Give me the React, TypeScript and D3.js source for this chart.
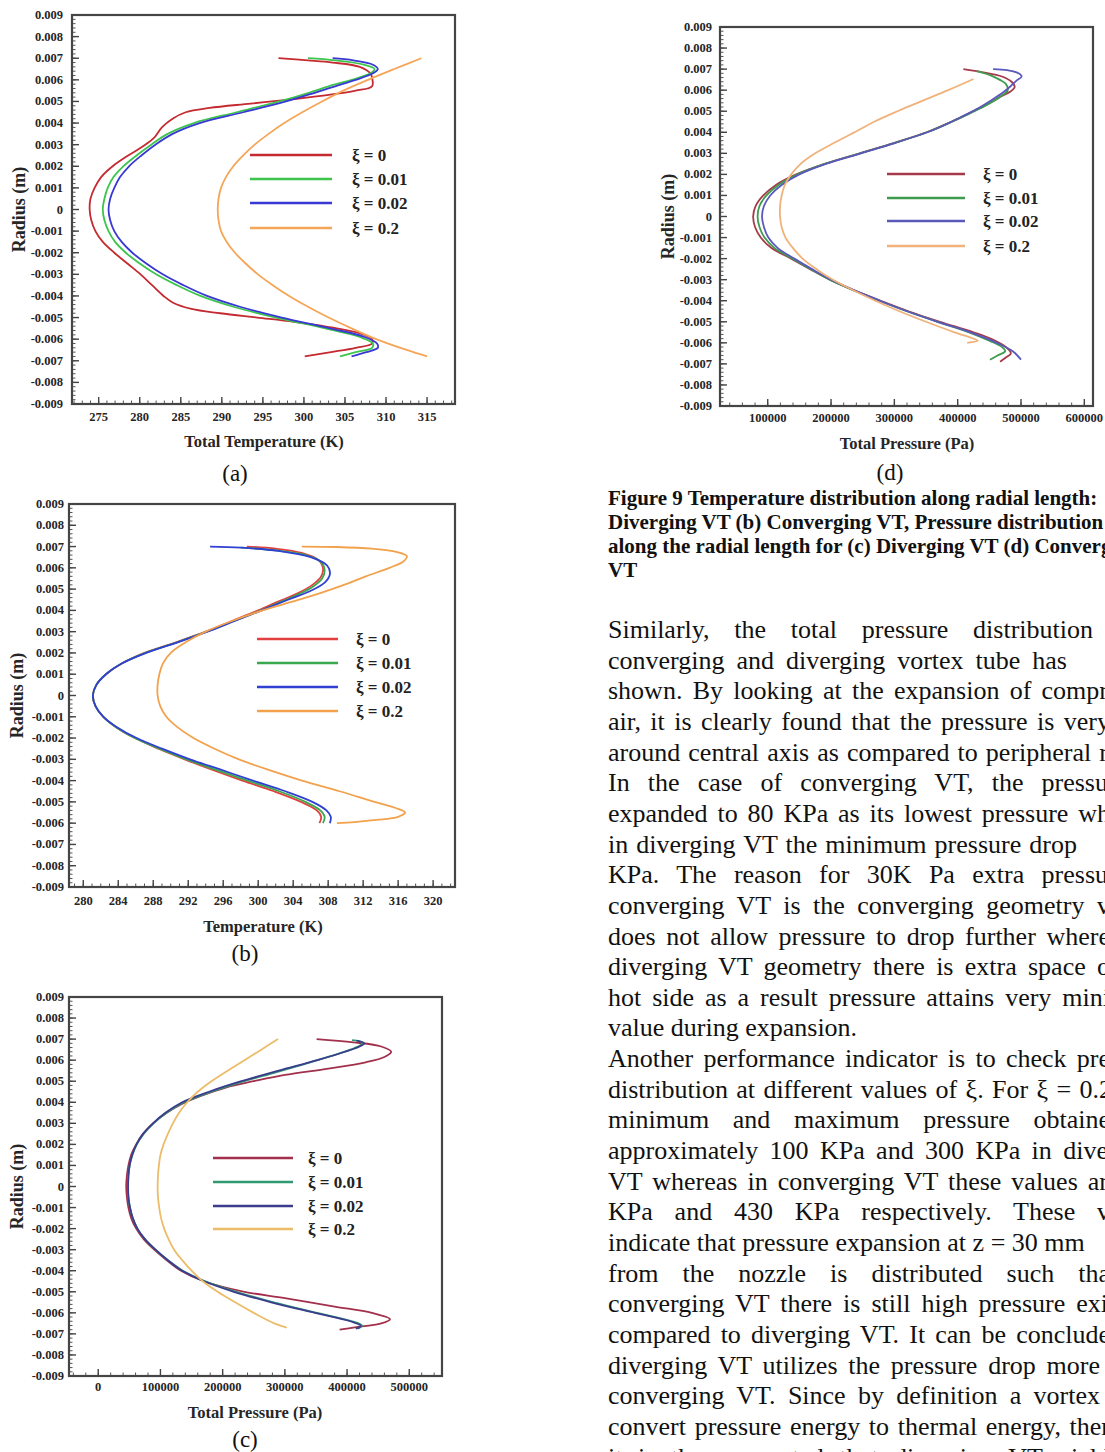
import React, { useLayoutEffect, useRef } from "react";
import * as d3 from "d3";

type P = [number, number]; // [radius (m), value]

// ---------- axis ticks ----------
const radiusTicks = [0.009, 0.008, 0.007, 0.006, 0.005, 0.004, 0.003, 0.002, 0.001, 0, -0.001, -0.002, -0.003, -0.004, -0.005, -0.006, -0.007, -0.008, -0.009];
const tempTicksA = [275, 280, 285, 290, 295, 300, 305, 310, 315];
const tempTicksB = [280, 284, 288, 292, 296, 300, 304, 308, 312, 316, 320];
const pressTicksC = [0, 100000, 200000, 300000, 400000, 500000];
const pressTicksD = [100000, 200000, 300000, 400000, 500000, 600000];
const legendLabels = ["ξ = 0", "ξ = 0.01", "ξ = 0.02", "ξ = 0.2"];

// ---------- (a) diverging VT, total temperature (K) ----------
const aXi0: P[] = [
  [0.007, 296.9], [0.0069, 300.5], [0.0068, 303.5], [0.0066, 306.8], [0.0063, 308.1], [0.0061, 308.3], [0.0057, 308.3],
  [0.0055, 306.3], [0.0053, 303.0], [0.0051, 298.5], [0.0049, 293.5], [0.0047, 288.5], [0.0045, 285.6], [0.0042, 284.0],
  [0.0038, 282.7], [0.0033, 281.7], [0.0029, 280.3], [0.0025, 278.6], [0.002, 276.7], [0.0015, 275.3], [0.001, 274.5],
  [0.0005, 274.0], [0, 273.9], [-0.0005, 274.1], [-0.001, 274.6], [-0.0015, 275.5], [-0.002, 276.9], [-0.0025, 278.5],
  [-0.003, 280.1], [-0.0035, 281.5], [-0.004, 282.9], [-0.0043, 284.0], [-0.0046, 286.3], [-0.0048, 289.8], [-0.005, 294.3],
  [-0.0052, 298.8], [-0.0055, 304.0], [-0.0058, 307.4], [-0.006, 308.3], [-0.0062, 308.3], [-0.0064, 306.3], [-0.0066, 303.3],
  [-0.0068, 300.1],
];
const aXi001: P[] = [
  [0.007, 300.5], [0.0069, 303.8], [0.0067, 307.3], [0.0065, 308.6], [0.0063, 308.1], [0.006, 305.8], [0.0057, 303.0],
  [0.0054, 300.6], [0.005, 297.0], [0.0045, 291.8], [0.004, 286.6], [0.0035, 283.4], [0.003, 281.4], [0.0025, 279.6],
  [0.002, 278.0], [0.0015, 276.8], [0.001, 276.1], [0.0005, 275.7], [0, 275.5], [-0.0005, 275.7], [-0.001, 276.2],
  [-0.0015, 277.0], [-0.002, 278.3], [-0.0025, 280.0], [-0.003, 282.0], [-0.0035, 284.5], [-0.004, 287.4], [-0.0045, 291.4],
  [-0.005, 296.6], [-0.0055, 302.6], [-0.0059, 306.8], [-0.0062, 308.4], [-0.0064, 308.3], [-0.0066, 306.3], [-0.0068, 304.4],
];
const aXi002: P[] = [
  [0.007, 303.5], [0.0069, 306.0], [0.0067, 308.4], [0.0065, 309.0], [0.0063, 308.4], [0.006, 306.3], [0.0057, 303.8],
  [0.0054, 301.3], [0.005, 297.8], [0.0045, 292.6], [0.004, 287.3], [0.0035, 284.0], [0.003, 281.9], [0.0025, 280.2],
  [0.002, 278.7], [0.0015, 277.6], [0.001, 276.9], [0.0005, 276.4], [0, 276.2], [-0.0005, 276.4], [-0.001, 276.9],
  [-0.0015, 277.8], [-0.002, 279.1], [-0.0025, 280.8], [-0.003, 282.8], [-0.0035, 285.3], [-0.004, 288.2], [-0.0045, 292.2],
  [-0.005, 297.3], [-0.0055, 303.2], [-0.0059, 307.4], [-0.0062, 308.9], [-0.0064, 309.0], [-0.0066, 307.6], [-0.0068, 305.8],
];
const aXi02: P[] = [
  [0.007, 314.3], [0.0065, 311.0], [0.006, 307.8], [0.0055, 304.8], [0.005, 302.2], [0.0045, 299.8], [0.004, 297.6],
  [0.0035, 295.7], [0.003, 294.0], [0.0025, 292.6], [0.002, 291.4], [0.0015, 290.5], [0.001, 289.9], [0.0005, 289.6],
  [0, 289.5], [-0.0005, 289.6], [-0.001, 289.9], [-0.0015, 290.6], [-0.002, 291.6], [-0.0025, 292.9], [-0.003, 294.4],
  [-0.0035, 296.2], [-0.004, 298.2], [-0.0045, 300.5], [-0.005, 303.0], [-0.0055, 305.8], [-0.006, 308.8], [-0.0065, 312.5],
  [-0.0068, 315.0],
];

// ---------- (b) converging VT, temperature (K) ----------
const bXi0: P[] = [
  [0.007, 298.7], [0.0069, 302.0], [0.0067, 305.0], [0.0064, 306.8], [0.006, 307.4], [0.0056, 307.2], [0.0052, 306.2],
  [0.0048, 304.5], [0.0044, 302.2], [0.004, 300.0], [0.0035, 297.0], [0.003, 294.0], [0.0025, 290.6], [0.002, 287.0],
  [0.0015, 284.4], [0.001, 282.6], [0.0005, 281.5], [0, 281.1], [-0.0005, 281.4], [-0.001, 282.3], [-0.0015, 283.8],
  [-0.002, 285.9], [-0.0025, 288.6], [-0.003, 291.6], [-0.0035, 294.8], [-0.004, 298.2], [-0.0045, 301.8], [-0.005, 304.9],
  [-0.0054, 306.7], [-0.0057, 307.2], [-0.006, 307.0],
];
const bXi001: P[] = [
  [0.00695, 298.0], [0.0068, 302.5], [0.0066, 305.5], [0.0063, 307.1], [0.0059, 307.6], [0.0055, 307.3], [0.0051, 306.2],
  [0.0047, 304.3], [0.0043, 302.0], [0.004, 300.3], [0.0035, 297.2], [0.003, 294.1], [0.0025, 290.7], [0.002, 287.1],
  [0.0015, 284.4], [0.001, 282.6], [0.0005, 281.5], [0, 281.1], [-0.0005, 281.4], [-0.001, 282.3], [-0.0015, 283.8],
  [-0.002, 285.9], [-0.0025, 288.7], [-0.003, 291.8], [-0.0035, 295.2], [-0.004, 298.8], [-0.0045, 302.4], [-0.005, 305.4],
  [-0.0054, 307.1], [-0.0057, 307.6], [-0.006, 307.4],
];
const bXi002: P[] = [
  [0.007, 294.5], [0.00695, 298.0], [0.0068, 302.3], [0.0065, 306.0], [0.0061, 307.9], [0.0057, 308.2], [0.0053, 307.6],
  [0.0049, 305.9], [0.0045, 303.4], [0.004, 300.4], [0.0035, 297.3], [0.003, 294.2], [0.0025, 290.8], [0.002, 287.2],
  [0.0015, 284.4], [0.001, 282.6], [0.0005, 281.5], [0, 281.1], [-0.0005, 281.4], [-0.001, 282.3], [-0.0015, 283.9],
  [-0.002, 286.1], [-0.0025, 289.0], [-0.003, 292.2], [-0.0035, 295.8], [-0.004, 299.4], [-0.0045, 303.1], [-0.005, 306.2],
  [-0.0054, 307.8], [-0.0057, 308.3], [-0.006, 308.2],
];
const bXi02: P[] = [
  [0.007, 305.0], [0.00698, 309.0], [0.0069, 313.0], [0.00675, 315.8], [0.00655, 317.0], [0.0063, 316.6], [0.006, 315.0],
  [0.0056, 312.3], [0.0052, 309.8], [0.0048, 307.0], [0.0044, 303.8], [0.004, 300.5], [0.0035, 297.0], [0.003, 294.0],
  [0.0025, 291.7], [0.002, 290.0], [0.0015, 289.1], [0.001, 288.7], [0.0005, 288.5], [0, 288.5], [-0.0005, 288.8],
  [-0.001, 289.5], [-0.0015, 290.8], [-0.002, 292.6], [-0.0025, 295.0], [-0.003, 297.8], [-0.0035, 301.2], [-0.004, 305.0],
  [-0.0045, 309.3], [-0.005, 313.3], [-0.0053, 315.8], [-0.0055, 316.8], [-0.0057, 316.0], [-0.00585, 313.5],
  [-0.00595, 311.0], [-0.006, 309.0],
];

// ---------- (c) diverging VT, total pressure (Pa) ----------
const cXi0: P[] = [
  [0.007, 351000], [0.00685, 410000], [0.00665, 455000], [0.0064, 471000], [0.00615, 460000], [0.0059, 430000],
  [0.0056, 370000], [0.0053, 300000], [0.005, 250000], [0.0047, 205000], [0.0043, 165000], [0.0039, 133000],
  [0.0035, 110000], [0.003, 88000], [0.0025, 72000], [0.002, 61000], [0.0015, 53000], [0.001, 48500], [0.0005, 46000],
  [0, 45000], [-0.0005, 46000], [-0.001, 48500], [-0.0015, 53000], [-0.002, 61000], [-0.0025, 73000], [-0.003, 90000],
  [-0.0035, 110000], [-0.004, 133000], [-0.0045, 170000], [-0.005, 235000], [-0.0053, 300000], [-0.0057, 380000],
  [-0.006, 440000], [-0.0063, 469000], [-0.0065, 455000], [-0.0067, 410000], [-0.0068, 388000],
];
const cXi001: P[] = [
  [0.00695, 408000], [0.00685, 424000], [0.00672, 422000], [0.0065, 405000], [0.0062, 375000], [0.0058, 330000],
  [0.0054, 283000], [0.005, 235000], [0.0045, 182000], [0.004, 138000], [0.0035, 110000], [0.003, 89000], [0.0025, 73000],
  [0.002, 62000], [0.0015, 55000], [0.001, 50500], [0.0005, 48500], [0, 48000], [-0.0005, 48500], [-0.001, 51000],
  [-0.0015, 55500], [-0.002, 63000], [-0.0025, 75000], [-0.003, 92000], [-0.0035, 112000], [-0.004, 136000],
  [-0.0045, 172000], [-0.005, 222000], [-0.0055, 282000], [-0.006, 352000], [-0.0064, 408000], [-0.0066, 424000],
  [-0.00675, 418000],
];
const cXi002: P[] = [
  [0.00693, 415000], [0.0068, 428000], [0.00665, 420000], [0.0064, 397000], [0.006, 352000], [0.0055, 290000],
  [0.005, 230000], [0.0045, 178000], [0.004, 135000], [0.0035, 108000], [0.003, 88000], [0.0025, 72000], [0.002, 61500],
  [0.0015, 54500], [0.001, 50500], [0.0005, 48500], [0, 48000], [-0.0005, 48500], [-0.001, 51000], [-0.0015, 55500],
  [-0.002, 63000], [-0.0025, 75000], [-0.003, 92000], [-0.0035, 112000], [-0.004, 135000], [-0.0045, 170000],
  [-0.005, 218000], [-0.0055, 278000], [-0.006, 348000], [-0.0064, 405000], [-0.00662, 422000], [-0.00675, 414000],
];
const cXi02: P[] = [
  [0.007, 289000], [0.0065, 262000], [0.006, 235000], [0.0055, 208000], [0.005, 182000], [0.0045, 160000],
  [0.004, 143000], [0.0035, 130000], [0.003, 120000], [0.0025, 112000], [0.002, 105000], [0.0015, 100000],
  [0.001, 97500], [0.0005, 96000], [0, 95500], [-0.0005, 96000], [-0.001, 98000], [-0.0015, 101000], [-0.002, 106000],
  [-0.0025, 113000], [-0.003, 122000], [-0.0035, 135000], [-0.004, 150000], [-0.0045, 168000], [-0.005, 192000],
  [-0.0055, 220000], [-0.006, 250000], [-0.0065, 283000], [-0.0067, 303000],
];

// ---------- (d) converging VT, total pressure (Pa) ----------
const dXi0: P[] = [
  [0.007, 409000], [0.00685, 440000], [0.00665, 470000], [0.0064, 485000], [0.00615, 490000], [0.00595, 484000],
  [0.0057, 468000], [0.0053, 445000], [0.0049, 418000], [0.0045, 390000], [0.004, 351000], [0.0035, 300000],
  [0.003, 245000], [0.0025, 190000], [0.002, 145000], [0.0015, 113000], [0.001, 93000], [0.0005, 81000], [0, 77000],
  [-0.0005, 80000], [-0.001, 89000], [-0.0015, 106000], [-0.002, 137000], [-0.0025, 167000], [-0.003, 198000],
  [-0.0035, 236000], [-0.004, 278000], [-0.0045, 322000], [-0.005, 372000], [-0.0055, 425000], [-0.0058, 452000],
  [-0.0062, 476000], [-0.0065, 484000], [-0.0067, 476000], [-0.0069, 467000],
];
const dXi001: P[] = [
  [0.0069, 430000], [0.0067, 452000], [0.0065, 466000], [0.0063, 476000], [0.006, 479000], [0.0057, 468000],
  [0.0053, 446000], [0.0049, 419000], [0.0045, 391000], [0.004, 352000], [0.0035, 301000], [0.003, 246000],
  [0.0025, 190000], [0.002, 147000], [0.0015, 117000], [0.001, 98000], [0.0005, 87000], [0, 84000], [-0.0005, 87000],
  [-0.001, 95000], [-0.0015, 111000], [-0.002, 139000], [-0.0025, 168000], [-0.003, 198000], [-0.0035, 235000],
  [-0.004, 276000], [-0.0045, 320000], [-0.005, 368000], [-0.0055, 418000], [-0.0059, 450000], [-0.0062, 470000],
  [-0.0064, 475000], [-0.0066, 463000], [-0.0068, 451000],
];
const dXi002: P[] = [
  [0.007, 456000], [0.00695, 478000], [0.0068, 496000], [0.00665, 501000], [0.00645, 493000], [0.0062, 484000],
  [0.0059, 472000], [0.0055, 452000], [0.0051, 430000], [0.0047, 404000], [0.0043, 376000], [0.004, 352000],
  [0.0035, 302000], [0.003, 247000], [0.0025, 192000], [0.002, 150000], [0.0015, 122000], [0.001, 104000],
  [0.0005, 94000], [0, 91000], [-0.0005, 94000], [-0.001, 101000], [-0.0015, 116000], [-0.002, 142000],
  [-0.0025, 170000], [-0.003, 200000], [-0.0035, 236000], [-0.004, 277000], [-0.0045, 320000], [-0.005, 368000],
  [-0.0055, 420000], [-0.006, 462000], [-0.0064, 487000], [-0.0068, 500000],
];
const dXi02: P[] = [
  [0.00653, 425000], [0.006, 385000], [0.0055, 345000], [0.005, 305000], [0.0045, 268000], [0.004, 237000],
  [0.0035, 205000], [0.003, 175000], [0.0025, 152000], [0.002, 137000], [0.0015, 127000], [0.001, 122000],
  [0.0005, 119500], [0, 119500], [-0.0005, 122000], [-0.001, 128000], [-0.0015, 140000], [-0.002, 155000],
  [-0.0025, 177000], [-0.003, 203000], [-0.0035, 235000], [-0.004, 270000], [-0.0045, 308000], [-0.005, 350000],
  [-0.0055, 395000], [-0.0058, 425000], [-0.0059, 432000], [-0.006, 415000],
];

// ---------- page text ----------
const captionLines = [
  "Figure 9 Temperature distribution along radial length:",
  "Diverging VT (b) Converging VT, Pressure distribution",
  "along the radial length for (c) Diverging VT (d) Converging",
  "VT",
];
// [text, right end of the justified line (undefined = ragged)]
const bodyLines: [string, number | undefined][] = [
  ["Similarly, the total pressure distribution", 1093],
  ["converging and diverging vortex tube has", 1067],
  ["shown. By looking at the expansion of compr", 1108],
  ["air, it is clearly found that the pressure is very", 1110],
  ["around central axis as compared to peripheral r", 1108],
  ["In the case of converging VT, the pressu", 1108],
  ["expanded to 80 KPa as its lowest pressure wh", 1110],
  ["in diverging VT the minimum pressure drop", 1077],
  ["KPa. The reason for 30K Pa extra pressu", 1108],
  ["converging VT is the converging geometry v", 1110],
  ["does not allow pressure to drop further where", 1110],
  ["diverging VT geometry there is extra space o", 1110],
  ["hot side as a result pressure attains very mini", 1110],
  ["value during expansion.", undefined],
  ["Another performance indicator is to check pre", 1110],
  ["distribution at different values of ξ. For ξ = 0.2", 1112],
  ["minimum and maximum pressure obtaine", 1110],
  ["approximately 100 KPa and 300 KPa in dive", 1108],
  ["VT whereas in converging VT these values ar", 1108],
  ["KPa and 430 KPa respectively. These v", 1110],
  ["indicate that pressure expansion at z = 30 mm", undefined],
  ["from the nozzle is distributed such tha", 1110],
  ["converging VT there is still high pressure exi", 1108],
  ["compared to diverging VT. It can be conclude", 1110],
  ["diverging VT utilizes the pressure drop more", 1100],
  ["converging VT. Since by definition a vortex", 1100],
  ["convert pressure energy to thermal energy, ther", 1110],
  ["it is then expected that diverging VT yield", 1110],
];

const SERIF = "'Liberation Serif', 'Times New Roman', serif";
const TEXT_X = 608;

interface PanelCfg {
  left: number; top: number; right: number; bottom: number;
  xDomain: [number, number];
  xTicks: number[];
  xMinor: number;
  xFormat: (v: number) => string;
  xTitle: string;
  xTitleX: number; xTitleY: number; xLabelY: number;
  yLabelEnd: number; yTitleX: number;
  series: P[][];
  colors: string[];
  legend: { x1: number; x2: number; tx: number; y: number[] };
  tag: string; tagX: number; tagY: number;
}

const panels: PanelCfg[] = [
  {
    left: 72, top: 15, right: 455, bottom: 404,
    xDomain: [271.75, 318.4], xTicks: tempTicksA, xMinor: 1, xFormat: (v) => String(v),
    xTitle: "Total Temperature (K)", xTitleX: 264, xTitleY: 447, xLabelY: 421,
    yLabelEnd: 63, yTitleX: 21,
    series: [aXi0, aXi001, aXi002, aXi02],
    colors: ["#c42a30", "#3cc44c", "#3838d4", "#f5a557"],
    legend: { x1: 250, x2: 332, tx: 352, y: [155, 179, 203, 228] },
    tag: "(a)", tagX: 235, tagY: 481,
  },
  {
    left: 69, top: 504, right: 455, bottom: 887,
    xDomain: [278.37, 322.5], xTicks: tempTicksB, xMinor: 1, xFormat: (v) => String(v),
    xTitle: "Temperature (K)", xTitleX: 263, xTitleY: 932, xLabelY: 905,
    yLabelEnd: 64, yTitleX: 19,
    series: [bXi0, bXi001, bXi002, bXi02],
    colors: ["#e2403e", "#3aa84c", "#3040d2", "#f2a24c"],
    legend: { x1: 257, x2: 338, tx: 356, y: [639, 663, 687, 711] },
    tag: "(b)", tagX: 245, tagY: 961,
  },
  {
    left: 69, top: 997, right: 442, bottom: 1376,
    xDomain: [-47000, 552600], xTicks: pressTicksC, xMinor: 20000, xFormat: (v) => String(v),
    xTitle: "Total Pressure (Pa)", xTitleX: 255, xTitleY: 1418, xLabelY: 1391,
    yLabelEnd: 64, yTitleX: 19,
    series: [cXi0, cXi001, cXi002, cXi02],
    colors: ["#a2304c", "#2f9a72", "#3c3c8e", "#ecbc68"],
    legend: { x1: 213, x2: 293, tx: 308, y: [1158, 1182, 1206, 1229] },
    tag: "(c)", tagX: 245, tagY: 1447,
  },
  {
    left: 720, top: 27, right: 1093, bottom: 406,
    xDomain: [24650, 613700], xTicks: pressTicksD, xMinor: 20000, xFormat: (v) => String(v),
    xTitle: "Total Pressure (Pa)", xTitleX: 907, xTitleY: 449, xLabelY: 422,
    yLabelEnd: 712, yTitleX: 670,
    series: [dXi0, dXi001, dXi002, dXi02],
    colors: ["#a53a4a", "#3f9c4e", "#5a58ba", "#f0b27a"],
    legend: { x1: 887, x2: 965, tx: 983, y: [174, 198, 221, 246] },
    tag: "(d)", tagX: 890, tagY: 480,
  },
];

function radiusLabel(v: number): string {
  return Math.abs(v) < 1e-12 ? "0" : v.toFixed(3);
}

function Panel({ cfg }: { cfg: PanelCfg }) {
  const x = d3.scaleLinear().domain(cfg.xDomain).range([cfg.left, cfg.right]);
  const y = d3.scaleLinear().domain([-0.009, 0.009]).range([cfg.bottom, cfg.top]);
  const line = d3
    .line<P>()
    .x((d) => x(d[1]))
    .y((d) => y(d[0]))
    .curve(d3.curveCatmullRom.alpha(0.5));

  const xMinorTicks = d3
    .range(Math.ceil(cfg.xDomain[0] / cfg.xMinor), Math.floor(cfg.xDomain[1] / cfg.xMinor) + 1)
    .map((i) => i * cfg.xMinor);
  const yMinorTicks = d3.range(-45, 46).map((i) => i * 0.0002);
  const yMid = (cfg.top + cfg.bottom) / 2;

  return (
    <g>
      {/* minor ticks */}
      <g stroke="#555" strokeWidth={1}>
        {xMinorTicks.map((v, i) => (
          <line key={"xm" + i} x1={x(v)} x2={x(v)} y1={cfg.bottom} y2={cfg.bottom - 3.5} />
        ))}
        {yMinorTicks.map((v, i) => (
          <line key={"ym" + i} x1={cfg.left} x2={cfg.left + 3.5} y1={y(v)} y2={y(v)} />
        ))}
      </g>
      {/* major ticks */}
      <g stroke="#444" strokeWidth={1.4}>
        {cfg.xTicks.map((v, i) => (
          <line key={"xM" + i} x1={x(v)} x2={x(v)} y1={cfg.bottom} y2={cfg.bottom - 7} />
        ))}
        {radiusTicks.map((v, i) => (
          <line key={"yM" + i} x1={cfg.left} x2={cfg.left + 7} y1={y(v)} y2={y(v)} />
        ))}
      </g>
      {/* curves */}
      <g fill="none" strokeWidth={1.8} strokeLinejoin="round">
        {cfg.series.map((s, i) => (
          <path key={"s" + i} d={line(s) ?? ""} stroke={cfg.colors[i]} />
        ))}
      </g>
      {/* frame */}
      <rect
        x={cfg.left}
        y={cfg.top}
        width={cfg.right - cfg.left}
        height={cfg.bottom - cfg.top}
        fill="none"
        stroke="#454545"
        strokeWidth={2.2}
      />
      {/* tick labels */}
      <g fontFamily={SERIF} fontWeight="bold" fontSize={12.5} fill="#262626">
        {cfg.xTicks.map((v, i) => (
          <text key={"xl" + i} x={x(v)} y={cfg.xLabelY} textAnchor="middle">
            {cfg.xFormat(v)}
          </text>
        ))}
        {radiusTicks.map((v, i) => (
          <text key={"yl" + i} x={cfg.yLabelEnd} y={y(v) + 4} textAnchor="end">
            {radiusLabel(v)}
          </text>
        ))}
      </g>
      {/* axis titles */}
      <g fontFamily={SERIF} fontWeight="bold" fill="#262626">
        <text x={cfg.xTitleX} y={cfg.xTitleY} textAnchor="middle" fontSize={16.5}>
          {cfg.xTitle}
        </text>
        <text
          transform={`translate(${cfg.yTitleX},${yMid}) rotate(-90)`}
          textAnchor="middle"
          dominantBaseline="middle"
          fontSize={18}
        >
          Radius (m)
        </text>
      </g>
      {/* legend */}
      <g>
        {legendLabels.map((lab, i) => (
          <g key={"lg" + i}>
            <line
              x1={cfg.legend.x1}
              x2={cfg.legend.x2}
              y1={cfg.legend.y[i]}
              y2={cfg.legend.y[i]}
              stroke={cfg.colors[i]}
              strokeWidth={2.4}
            />
            <text
              x={cfg.legend.tx}
              y={cfg.legend.y[i] + 6}
              fontFamily={SERIF}
              fontWeight="bold"
              fontSize={17}
              fill="#222"
            >
              {lab}
            </text>
          </g>
        ))}
      </g>
      {/* panel tag */}
      <text x={cfg.tagX} y={cfg.tagY} textAnchor="middle" fontFamily={SERIF} fontSize={23} fill="#111">
        {cfg.tag}
      </text>
    </g>
  );
}

function BodyLine({ text, y, end }: { text: string; y: number; end?: number }) {
  const ref = useRef<SVGTextElement>(null);
  useLayoutEffect(() => {
    const apply = () => {
      const el = ref.current;
      if (!el || end === undefined) return;
      el.style.wordSpacing = "0px";
      const natural = el.getComputedTextLength();
      const gaps = text.split(" ").length - 1;
      if (gaps > 0) el.style.wordSpacing = `${Math.max(0, (end - TEXT_X - natural) / gaps)}px`;
    };
    apply();
    const fonts = (document as any).fonts;
    if (fonts && fonts.ready) fonts.ready.then(apply);
  }, [text, end]);
  return (
    <text ref={ref} x={TEXT_X} y={y} fontFamily={SERIF} fontSize={26} fill="#111" style={{ whiteSpace: "pre" }}>
      {text}
    </text>
  );
}

export default function App() {
  return (
    <svg
      width={1105}
      height={1452}
      viewBox="0 0 1105 1452"
      style={{ position: "absolute", left: 0, top: 0, background: "#fff", overflow: "hidden" }}
    >
      <rect x={0} y={0} width={1105} height={1452} fill="#fff" />
      {panels.map((p, i) => (
        <Panel key={i} cfg={p} />
      ))}
      <g fontFamily={SERIF} fontWeight="bold" fontSize={21} fill="#111">
        {captionLines.map((t, i) => (
          <text key={"c" + i} x={TEXT_X} y={505 + i * 24}>
            {t}
          </text>
        ))}
      </g>
      {bodyLines.map(([t, end], i) => (
        <BodyLine key={"b" + i} text={t} y={638 + i * 30.65} end={end} />
      ))}
    </svg>
  );
}
